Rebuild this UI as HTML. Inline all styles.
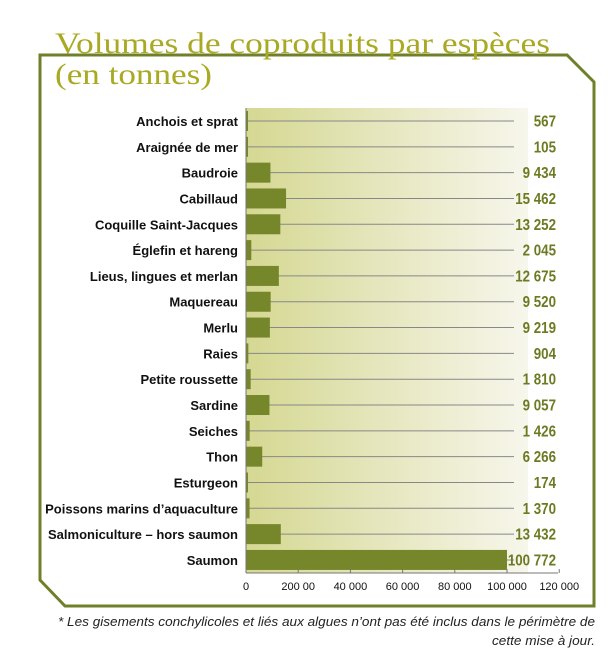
<!DOCTYPE html>
<html><head><meta charset="utf-8"><style>
body{margin:0;background:#fff;width:615px;height:662px;overflow:hidden}
svg{display:block}
.l{font-family:"Liberation Sans",sans-serif;font-size:13px;font-weight:bold;fill:#111;text-anchor:end}
.v{font-family:"Liberation Sans",sans-serif;font-size:15.5px;font-weight:bold;fill:#6e7a22;text-anchor:end}
.t{font-family:"Liberation Sans",sans-serif;font-size:11px;fill:#111;text-anchor:middle}
</style></head><body>
<svg width="615" height="662" viewBox="0 0 615 662">
<defs><linearGradient id="g" x1="0" x2="1"><stop offset="0" stop-color="#d5d892"/><stop offset="1" stop-color="#f7f6ec"/></linearGradient></defs>
<polygon points="40,55 567,55 594,82 594,606 65,606 40,580" fill="#fff" stroke="#6f7f2a" stroke-width="3"/>
<text x="55" y="53" font-family="'Liberation Serif',serif" font-size="30" fill="#a9a923" textLength="495" lengthAdjust="spacingAndGlyphs">Volumes de coproduits par espèces</text>
<text x="55" y="84" font-family="'Liberation Serif',serif" font-size="30" fill="#a9a923" textLength="157" lengthAdjust="spacingAndGlyphs">(en tonnes)</text>
<rect x="246" y="108" width="282" height="465" fill="url(#g)"/>
<g id="rows"></g>
<line x1="246" y1="108" x2="246" y2="573" stroke="#777" stroke-width="1"/>
<line x1="246" y1="573" x2="558" y2="573" stroke="#777" stroke-width="1"/>
<g id="ticks"></g>
<text x="595" y="626" font-family="'Liberation Sans',sans-serif" font-size="13" font-style="italic" fill="#222" text-anchor="end" textLength="537" lengthAdjust="spacingAndGlyphs">* Les gisements conchylicoles et liés aux algues n’ont pas été inclus dans le périmètre de</text>
<text x="595" y="645" font-family="'Liberation Sans',sans-serif" font-size="13" font-style="italic" fill="#222" text-anchor="end" textLength="103" lengthAdjust="spacingAndGlyphs">cette mise à jour.</text>
</svg>
<script>
var d=[["Anchois et sprat",567,"567"],["Araignée de mer",105,"105"],["Baudroie",9434,"9 434"],["Cabillaud",15462,"15 462"],["Coquille Saint-Jacques",13252,"13 252"],["Églefin et hareng",2045,"2 045"],["Lieus, lingues et merlan",12675,"12 675"],["Maquereau",9520,"9 520"],["Merlu",9219,"9 219"],["Raies",904,"904"],["Petite roussette",1810,"1 810"],["Sardine",9057,"9 057"],["Seiches",1426,"1 426"],["Thon",6266,"6 266"],["Esturgeon",174,"174"],["Poissons marins d’aquaculture",1370,"1 370"],["Salmoniculture – hors saumon",13432,"13 432"],["Saumon",100772,"100 772"]];
var s="";
d.forEach(function(r,i){var y=121+i*25.82;var w=Math.max(2,r[1]*0.00259);
s+='<line x1="246" y1="'+y+'" x2="514" y2="'+y+'" stroke="#888" stroke-width="1"/>';
s+='<rect x="246" y="'+(y-10)+'" width="'+w+'" height="20" fill="#76862b"/>';
s+='<text class="l" x="238" y="'+(y+5)+'">'+r[0]+'</text>';
s+='<text class="v" x="556" y="'+(y+5.5)+'">'+r[2]+'</text>';});
document.getElementById("rows").innerHTML=s;
document.querySelectorAll(".v").forEach(function(e){var n=e.getComputedTextLength();e.setAttribute("textLength",n*0.86);e.setAttribute("lengthAdjust","spacingAndGlyphs");});
var t="",lb=["0","200 00","40 000","60 000","80 000","100 000","120 000"];
for(var k=0;k<7;k++){var x=246+k*52.2;t+='<line x1="'+x+'" y1="573" x2="'+x+'" y2="569" stroke="#777"/><text class="t" x="'+x+'" y="590">'+lb[k]+'</text>';}
document.getElementById("ticks").innerHTML=t;
</script>
</body></html>
